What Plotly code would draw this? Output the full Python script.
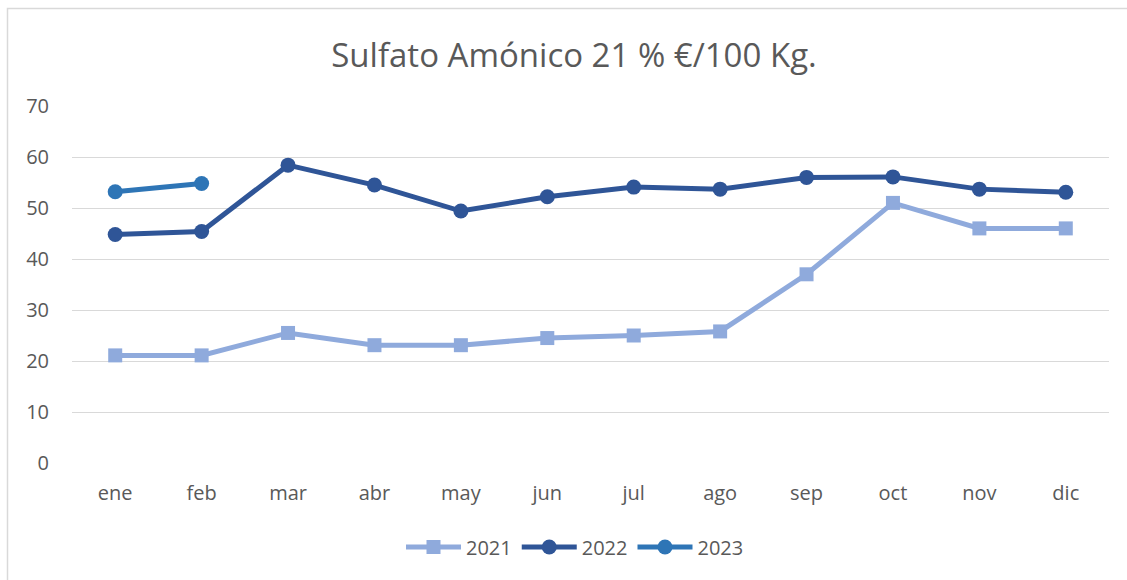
import plotly.graph_objects as go

months = ["ene", "feb", "mar", "abr", "may", "jun", "jul", "ago", "sep", "oct", "nov", "dic"]
v2021 = [21.1, 21.1, 25.5, 23.1, 23.1, 24.5, 25.0, 25.8, 37.0, 51.0, 46.0, 46.0]
v2022 = [44.8, 45.4, 58.4, 54.5, 49.4, 52.2, 54.1, 53.7, 56.0, 56.1, 53.7, 53.1]
v2023 = [53.2, 54.8]
y_ticks = [0, 10, 20, 30, 40, 50, 60, 70]
title = "Sulfato Amónico 21 % €/100 Kg."

FONT = "'Open Sans', sans-serif"
GREY = "#595959"

fig = go.Figure()
fig.add_trace(go.Scatter(x=months, y=v2021, name="2021", mode="lines+markers",
                         line=dict(color="#8FAADC", width=5),
                         marker=dict(symbol="square", size=14, color="#8FAADC")))
fig.add_trace(go.Scatter(x=months, y=v2022, name="2022", mode="lines+markers",
                         line=dict(color="#2F5597", width=5),
                         marker=dict(symbol="circle", size=15, color="#2F5597")))
fig.add_trace(go.Scatter(x=months[:len(v2023)], y=v2023, name="2023", mode="lines+markers",
                         line=dict(color="#2E75B6", width=5),
                         marker=dict(symbol="circle", size=15, color="#2E75B6")))

fig.update_layout(
    width=1127, height=580,
    margin=dict(l=72, r=18, t=106, b=117),
    paper_bgcolor="white", plot_bgcolor="white",
    font=dict(family=FONT, color=GREY, size=20),
    title=dict(text=title, x=574 / 1127, xanchor="center", y=1 - 55 / 580, yanchor="middle",
               font=dict(size=33, color=GREY, family=FONT)),
    showlegend=True,
    legend=dict(orientation="h", x=(575 - 72) / 1037, xanchor="center",
                y=-(547 - 463) / 357, yanchor="middle",
                font=dict(size=20, color=GREY), itemwidth=55, traceorder="normal",
                bgcolor="rgba(0,0,0,0)"),
    xaxis=dict(type="category", categoryorder="array", categoryarray=months,
               range=[-0.5, 11.5], showgrid=False, zeroline=False, showline=False,
               ticks="outside", ticklen=12, tickcolor="rgba(0,0,0,0)",
               tickfont=dict(size=20, color=GREY), fixedrange=True),
    yaxis=dict(range=[0, 70], tickvals=y_ticks, showgrid=True, gridcolor="#D9D9D9",
               gridwidth=1, zeroline=False, showline=False,
               ticks="outside", ticklen=18, tickcolor="rgba(0,0,0,0)",
               tickfont=dict(size=20, color=GREY), fixedrange=True),
    shapes=[dict(type="rect", xref="paper", yref="paper",
                 x0=(7.5 - 72) / 1037, x1=1.2, y0=-0.6, y1=(463 - 8.5) / 357,
                 line=dict(color="#D9D9D9", width=1.5), fillcolor="rgba(0,0,0,0)",
                 layer="below")],
)

fig.write_html("out.html", config={"displayModeBar": False},
               post_script="document.body.style.margin='0px';")
